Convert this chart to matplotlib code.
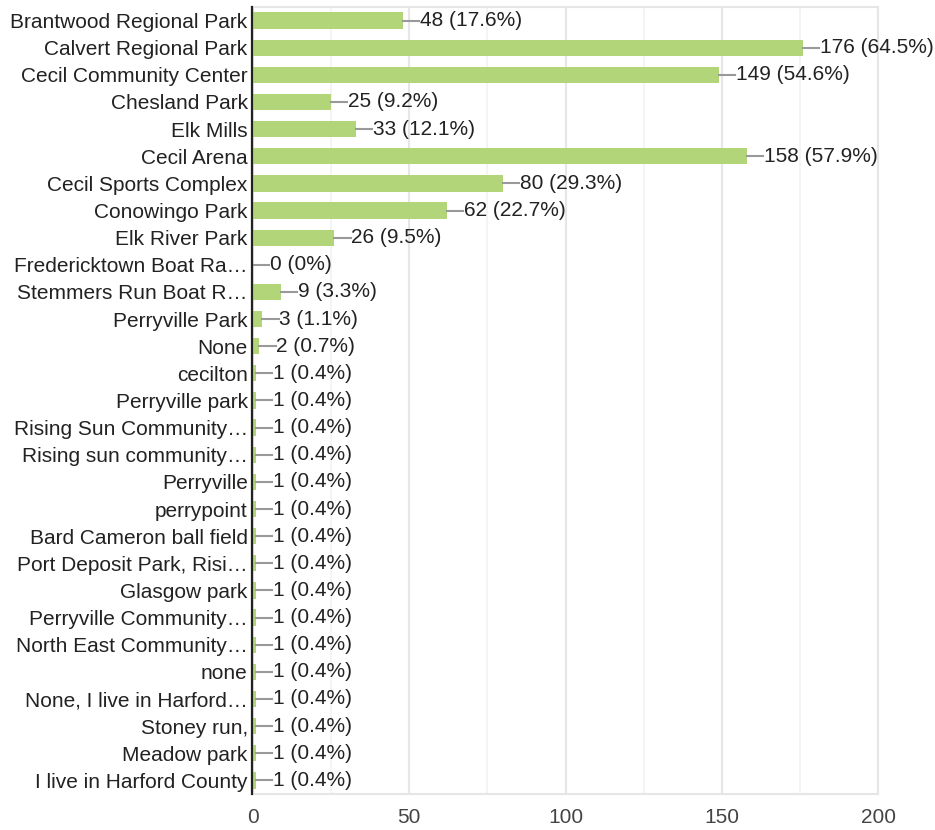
import numpy as np
import matplotlib.pyplot as plt

plt.rcParams['font.family'] = ['Liberation Sans', 'DejaVu Sans']

places = ['Brantwood Regional Park', 'Calvert Regional Park', 'Cecil Community Center',
          'Chesland Park', 'Elk Mills', 'Cecil Arena', 'Cecil Sports Complex',
          'Conowingo Park', 'Elk River Park', 'Fredericktown Boat Ra\u2026',
          'Stemmers Run Boat R\u2026', 'Perryville Park', 'None', 'cecilton',
          'Perryville park', 'Rising Sun Community\u2026', 'Rising sun community\u2026',
          'Perryville', 'perrypoint', 'Bard Cameron ball field',
          'Port Deposit Park, Risi\u2026', 'Glasgow park', 'Perryville Community\u2026',
          'North East Community\u2026', 'none', 'None, I live in Harford\u2026',
          'Stoney run,', 'Meadow park', 'I live in Harford County']
counts = [48, 176, 149, 25, 33, 158, 80, 62, 26, 0, 9, 3, 2,
          1, 1, 1, 1, 1, 1, 1, 1, 1, 1, 1, 1, 1, 1, 1, 1]
percents = ['17.6%', '64.5%', '54.6%', '9.2%', '12.1%', '57.9%', '29.3%', '22.7%',
            '9.5%', '0%', '3.3%', '1.1%', '0.7%'] + ['0.4%'] * 16

fig = plt.figure(figsize=(9.35, 8.3), dpi=100)
ax = fig.add_axes([0.2706, 0.0434, 0.6685, 0.9482])

# spine position first: set_position resets the tick settings
for side in ['top', 'right', 'bottom']:
    ax.spines[side].set_color('#e6e6e6')
    ax.spines[side].set_linewidth(1.5)
ax.spines['left'].set_color('#222222')
ax.spines['left'].set_linewidth(1.6)
ax.spines['left'].set_position(('outward', 0.8))
ax.spines['left'].set_zorder(5)

y = np.arange(len(places))
ax.barh(y, counts, height=0.6, color='#b3d57a', zorder=2)

# connector + value label after each bar
for i, (c, p) in enumerate(zip(counts, percents)):
    ax.plot([c, c + 5.2], [i, i], color='#999999', lw=1.5, zorder=3)
    ax.text(c + 5.4, i, '{} ({})'.format(c, p), va='center', ha='left',
            fontsize=15, color='#222222', zorder=4)

ax.set_xlim(0, 200)
ax.set_ylim(len(places) - 0.5, -0.5)
ax.set_yticks(y)
ax.set_yticklabels(places, fontsize=15, color='#222222')
ax.set_xticks([0, 50, 100, 150, 200])
ax.set_xticklabels(['0', '50', '100', '150', '200'], fontsize=15, color='#444444')
ax.set_xticks([25, 75, 125, 175], minor=True)
ax.tick_params(axis='y', length=0, pad=3)
ax.tick_params(axis='x', which='both', length=0, pad=10)

ax.grid(axis='x', which='major', color='#e6e6e6', lw=1.5, zorder=0)
ax.grid(axis='x', which='minor', color='#f2f2f2', lw=1.2, zorder=0)

fig.savefig('out.png', dpi=100)
